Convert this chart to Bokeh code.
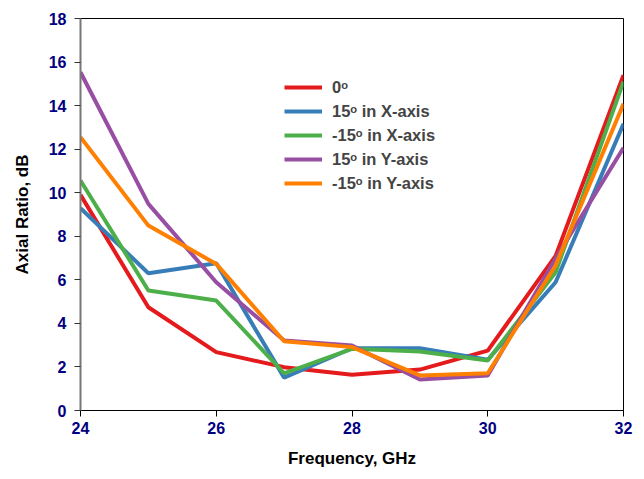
from bokeh.plotting import figure
from bokeh.models import Legend, LegendItem, FixedTicker, Range1d
from bokeh.embed import file_html
from bokeh.resources import INLINE

freq = [24, 25, 26, 27, 28, 29, 30, 31, 32]
ar_0 = [9.9, 4.74, 2.68, 1.99, 1.64, 1.88, 2.75, 7.1, 15.4]
ar_15x = [9.29, 6.3, 6.76, 1.51, 2.86, 2.86, 2.33, 5.89, 13.16]
ar_m15x = [10.56, 5.51, 5.05, 1.71, 2.83, 2.71, 2.3, 6.35, 15.1]
ar_15y = [15.53, 9.49, 5.89, 3.21, 2.98, 1.42, 1.61, 6.98, 12.06]
ar_m15y = [12.55, 8.49, 6.73, 3.18, 2.91, 1.61, 1.71, 6.66, 14.08]
labels = ["0ᵒ", "15ᵒ in X-axis", "-15ᵒ in X-axis", "15ᵒ in Y-axis", "-15ᵒ in Y-axis"]
colors = ["#e41a1c", "#377eb8", "#4daf4a", "#984ea3", "#ff7f00"]
x_ticks = [24, 26, 28, 30, 32]
y_ticks = [0, 2, 4, 6, 8, 10, 12, 14, 16, 18]

p = figure(width=636, height=471, output_backend="svg", toolbar_location=None,
           x_range=Range1d(24, 32), y_range=Range1d(0, 18),
           min_border_left=80, min_border_right=13, min_border_top=18, min_border_bottom=61)
p.grid.visible = False
p.outline_line_color = "black"
p.outline_line_width = 1
p.background_fill_color = "white"
p.border_fill_color = "white"

items = []
for ys, lab, c in zip([ar_0, ar_15x, ar_m15x, ar_15y, ar_m15y], labels, colors):
    r = p.line(freq, ys, line_color=c, line_width=4)
    items.append(LegendItem(label=lab, renderers=[r]))

for ax in (p.xaxis[0], p.yaxis[0]):
    ax.major_label_text_font = "Liberation Sans"
    ax.major_label_text_font_style = "bold"
    ax.major_label_text_font_size = "16px"
    ax.major_label_text_color = "#000080"
    ax.axis_label_text_font = "Liberation Sans"
    ax.axis_label_text_font_style = "bold"
    ax.axis_label_text_font_size = "17px"
    ax.axis_label_text_color = "black"
    ax.minor_tick_line_color = None
    ax.major_tick_in = 0
    ax.major_tick_out = 6

p.xaxis.ticker = FixedTicker(ticks=x_ticks)
p.yaxis.ticker = FixedTicker(ticks=y_ticks)
p.xaxis.axis_label = "Frequency, GHz"
p.yaxis.axis_label = "Axial Ratio, dB"
p.xaxis.axis_line_color = "black"
p.xaxis.major_tick_line_color = "black"
p.yaxis.axis_line_color = "#777777"
p.yaxis.axis_line_width = 2
p.yaxis.major_tick_line_color = "#333333"
p.xaxis.major_label_standoff = 5
p.xaxis.axis_label_standoff = 12
p.yaxis.major_label_standoff = 8
p.yaxis.axis_label_standoff = 14

legend = Legend(items=items, location=(204, 217))
legend.border_line_color = None
legend.background_fill_alpha = 0
legend.label_text_font = "Liberation Sans"
legend.label_text_font_style = "bold"
legend.label_text_font_size = "16.5px"
legend.glyph_width = 38
legend.glyph_height = 20
legend.label_height = 20
legend.spacing = 4
legend.label_standoff = 10
legend.padding = 5
p.add_layout(legend)

open("out.html", "w").write(file_html(p, INLINE))
